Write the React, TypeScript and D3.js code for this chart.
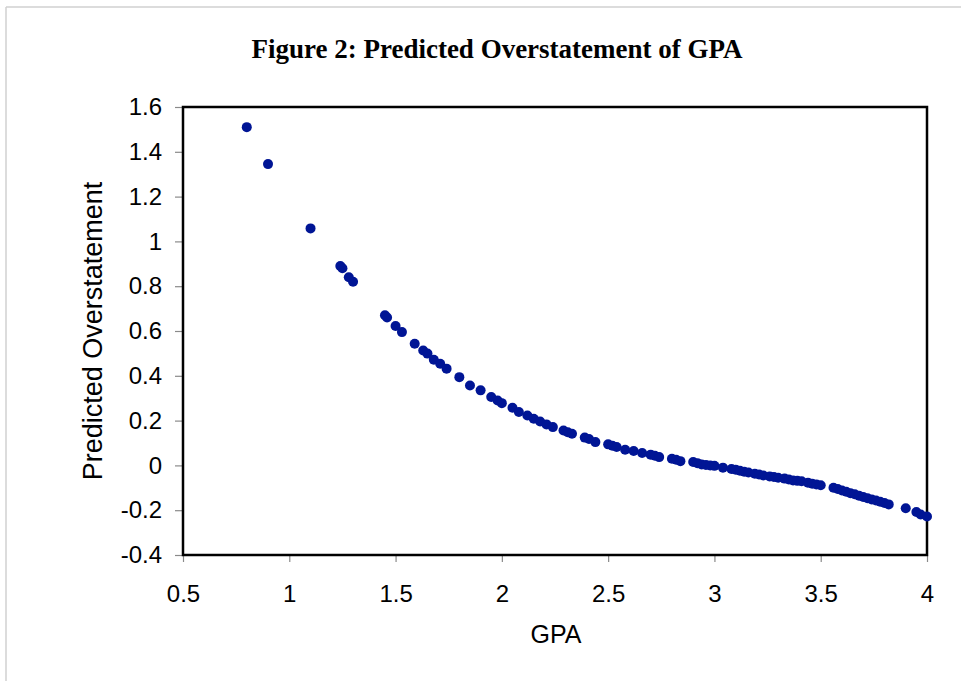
import React, { useEffect, useRef } from "react";
import * as d3 from "d3";

// values
const gpa = [
  0.8, 0.9, 1.1, 1.24, 1.25, 1.28, 1.3, 1.45, 1.46, 1.5, 1.53, 1.59, 1.63, 1.65, 1.68,
  1.71, 1.74, 1.8, 1.85, 1.9, 1.95, 1.98, 2.0, 2.05, 2.08, 2.12, 2.15, 2.18, 2.21, 2.24,
  2.29, 2.31, 2.33, 2.39, 2.41, 2.44, 2.5, 2.52, 2.54, 2.58, 2.62, 2.66, 2.7, 2.72, 2.74,
  2.8, 2.82, 2.84, 2.9, 2.92, 2.94, 2.96, 2.98, 3.0, 3.04, 3.08, 3.1, 3.12, 3.14, 3.16,
  3.19, 3.21, 3.23, 3.26, 3.28, 3.3, 3.33, 3.35, 3.37, 3.39, 3.41, 3.44, 3.46, 3.48, 3.5,
  3.56, 3.58, 3.6, 3.62, 3.64, 3.66, 3.68, 3.7, 3.72, 3.74, 3.76, 3.78, 3.8, 3.82, 3.9,
  3.95, 3.97, 4.0,
];
const overstatement = [
  1.51, 1.345, 1.058, 0.89, 0.88, 0.84, 0.82, 0.67, 0.66, 0.622, 0.595, 0.543, 0.513, 0.499, 0.472,
  0.454, 0.432, 0.394, 0.357, 0.335, 0.305, 0.29, 0.278, 0.257, 0.238, 0.223, 0.208, 0.196, 0.183, 0.171,
  0.156, 0.148, 0.141, 0.124, 0.118, 0.104, 0.094, 0.088, 0.082, 0.07, 0.064, 0.055, 0.048, 0.043, 0.037,
  0.03, 0.025, 0.019, 0.015, 0.01, 0.004, 0.002, 0.0, -0.002, -0.01, -0.016, -0.019, -0.024, -0.028, -0.032,
  -0.037, -0.041, -0.045, -0.049, -0.052, -0.055, -0.059, -0.063, -0.067, -0.069, -0.071, -0.077, -0.082, -0.085, -0.089,
  -0.1, -0.105, -0.112, -0.118, -0.124, -0.129, -0.135, -0.141, -0.147, -0.152, -0.157, -0.162, -0.168, -0.174, -0.191,
  -0.208, -0.219, -0.228,
];
const xTicks = [0.5, 1, 1.5, 2, 2.5, 3, 3.5, 4];
const yTicks = [-0.4, -0.2, 0, 0.2, 0.4, 0.6, 0.8, 1, 1.2, 1.4, 1.6];

const W = 961;
const H = 681;
const margin = { top: 107, right: 34, bottom: 126, left: 183 };
const sans = "'Liberation Sans', Arial, sans-serif";

export default function App() {
  const ref = useRef<SVGSVGElement>(null);

  useEffect(() => {
    const svg = d3.select(ref.current).html("");
    const width = W - margin.left - margin.right;
    const height = H - margin.top - margin.bottom;

    svg.append("rect").attr("width", W).attr("height", H).attr("fill", "#fff");
    // page frame
    svg.append("line").attr("x1", 6).attr("x2", W).attr("y1", 7).attr("y2", 7)
      .attr("stroke", "#d0d0d0").attr("stroke-width", 1.5);
    svg.append("line").attr("x1", 6).attr("x2", 6).attr("y1", 7).attr("y2", H)
      .attr("stroke", "#d0d0d0").attr("stroke-width", 1.5);

    svg.append("text")
      .attr("x", 497).attr("y", 58)
      .attr("text-anchor", "middle")
      .attr("font-family", "'Liberation Serif', 'Times New Roman', serif")
      .attr("font-weight", "bold")
      .attr("font-size", 27)
      .text("Figure 2: Predicted Overstatement of GPA");

    const x = d3.scaleLinear().domain([0.5, 4]).range([0, width]);
    const y = d3.scaleLinear().domain([-0.4, 1.6]).range([height, 0]);

    const g = svg.append("g").attr("transform", `translate(${margin.left},${margin.top})`);

    const xAxis = g.append("g")
      .attr("transform", `translate(0,${height})`)
      .call(d3.axisBottom(x).tickValues(xTicks).tickSize(7).tickPadding(23).tickFormat(d => String(d)));
    const yAxis = g.append("g")
      .call(d3.axisLeft(y).tickValues(yTicks).tickSize(8).tickPadding(13).tickFormat(d => String(+(+d).toFixed(1))));

    [xAxis, yAxis].forEach(a => {
      a.select(".domain").remove();
      a.selectAll("line").attr("stroke", "#8a8a8a").attr("stroke-width", 1.2);
      a.selectAll("text").attr("font-family", sans).attr("font-size", 24).attr("fill", "#000");
    });

    g.append("rect")
      .attr("width", width).attr("height", height)
      .attr("fill", "none").attr("stroke", "#000").attr("stroke-width", 2.5);

    const pts = gpa.map((v, i) => ({ gpa: v, val: overstatement[i] }));
    g.selectAll(".dot")
      .data(pts)
      .join("circle")
      .attr("class", "dot")
      .attr("cx", d => x(d.gpa))
      .attr("cy", d => y(d.val))
      .attr("r", 5)
      .attr("fill", "#001595");

    g.append("text")
      .attr("x", width / 2 + 1).attr("y", 643 - margin.top)
      .attr("text-anchor", "middle")
      .attr("font-family", sans).attr("font-size", 25)
      .text("GPA");

    g.append("text")
      .attr("transform", `translate(${102 - margin.left},${height / 2}) rotate(-90)`)
      .attr("text-anchor", "middle")
      .attr("font-family", sans).attr("font-size", 27)
      .text("Predicted Overstatement");
  }, []);

  return (
    <svg ref={ref} width={W} height={H}
      style={{ position: "absolute", left: 0, top: 0, display: "block" }} />
  );
}
